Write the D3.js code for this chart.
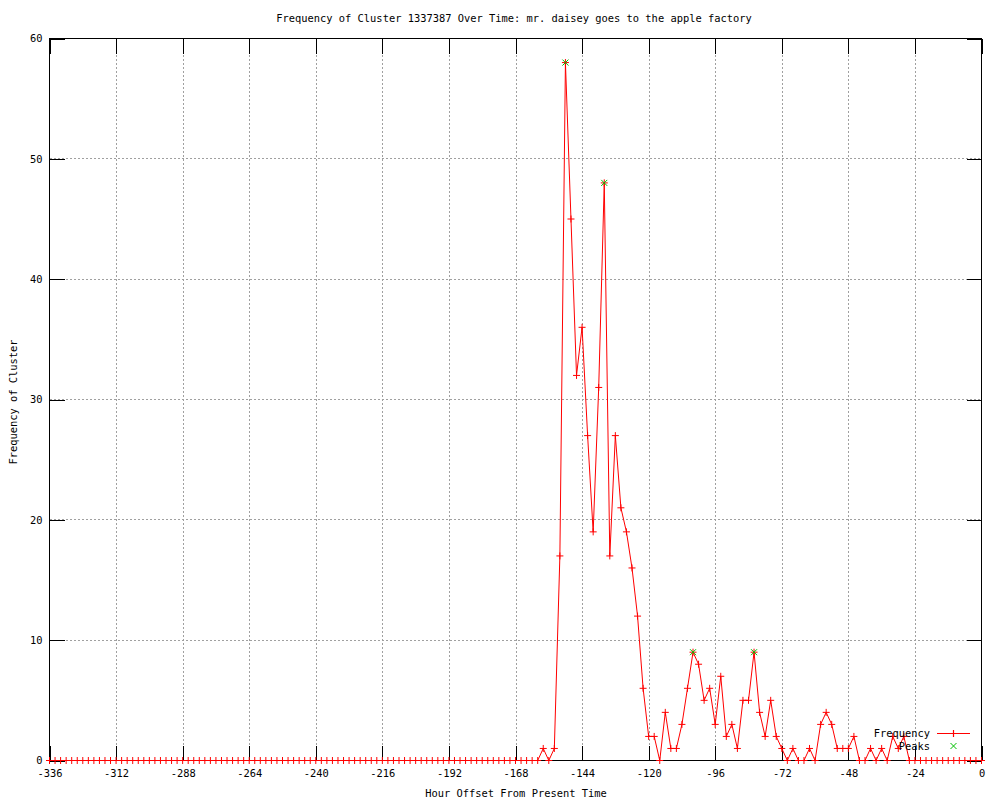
<!DOCTYPE html>
<html lang="en">
<head>
    <meta charset="UTF-8">
    <title>Frequency of Cluster 1337387</title>
    <style>
        body{margin:0; background:#fff;}
        svg{display:block;}
        text{font-family:"DejaVu Sans Mono", monospace; font-size:10.4px; fill:#000;}
    </style>
</head>
<body>
    <div id="chart"></div>
    <script src="https://cdn.jsdelivr.net/npm/d3@7"></script>
    <script>
        // hours go from -336 to 0 in steps of 2
        var startHour = -336;
        var stepHours = 2;
        // cluster frequency, one value per 2h bucket
        var counts = [
            0,0,0,0,0,0,0,0,0,0,0,0,
            0,0,0,0,0,0,0,0,0,0,0,0,
            0,0,0,0,0,0,0,0,0,0,0,0,
            0,0,0,0,0,0,0,0,0,0,0,0,
            0,0,0,0,0,0,0,0,0,0,0,0,
            0,0,0,0,0,0,0,0,0,0,0,0,
            0,0,0,0,0,0,0,0,0,0,0,0,
            0,0,0,0,
            // -160 .. -26
            0,1,0,1,17,58,45,32,36,27,
            19,31,48,17,27,21,19,16,12,6,
            2,2,0,4,1,1,3,6,9,8,
            5,6,3,7,2,3,1,5,5,9,
            4,2,5,2,1,0,1,0,0,1,
            0,3,4,3,1,1,1,2,0,0,
            1,0,1,0,2,1,2,0,
            // -24 .. 0
            0,0,0,0,0,0,0,0,0,0,0,0,0
        ];
        var peakHours = [-150, -136, -104, -82];
        var peakValues = [58, 48, 9, 9];

        var xTicks = [-336,-312,-288,-264,-240,-216,-192,-168,-144,-120,-96,-72,-48,-24,0];
        var yTicks = [0,10,20,30,40,50,60];

        var titleText = 'Frequency of Cluster 1337387 Over Time: mr. daisey goes to the apple factory';
        var xLabel = 'Hour Offset From Present Time';
        var yLabel = 'Frequency of Cluster';

        var data = counts.map(function(d,i){
            return {x: startHour + i*stepHours, y: d};
        });
        var peaks = peakHours.map(function(h,i){
            return {x: h, y: peakValues[i]};
        });

        var width = 1000, height = 800;
        var pLeft = 49.5, pRight = 981.5, pTop = 38.5, pBottom = 760.5;
        var red = '#ff0000', green = '#00c000';

        var xScale = d3.scaleLinear().domain([-336,0]).range([pLeft,pRight]);
        var yScale = d3.scaleLinear().domain([0,60]).range([pBottom,pTop]);

        var svg = d3.select('#chart').append('svg')
            .attr('width',width).attr('height',height);

        // grid
        var grid = svg.append('g').attr('shape-rendering','crispEdges');
        grid.selectAll('line.gx')
            .data(xTicks.filter(function(t){ return t > -336 && t < 0; }))
            .enter().append('line')
            .attr('class','gx')
            .attr('x1',function(d){ return Math.round(xScale(d))+0.5; })
            .attr('x2',function(d){ return Math.round(xScale(d))+0.5; })
            .attr('y1',pTop).attr('y2',pBottom)
            .attr('stroke','#a0a0a0').attr('stroke-dasharray','2,2');
        grid.selectAll('line.gy')
            .data(yTicks.filter(function(t){ return t > 0 && t < 60; }))
            .enter().append('line')
            .attr('class','gy')
            .attr('y1',function(d){ return yScale(d); })
            .attr('y2',function(d){ return yScale(d); })
            .attr('x1',pLeft).attr('x2',pRight)
            .attr('stroke','#a0a0a0').attr('stroke-dasharray','2,2');

        // axes, ticks pointing inward
        var fmt = function(d){ return String(d); };
        var xAxis = d3.axisBottom(xScale).tickValues(xTicks).tickFormat(fmt).tickSize(-15).tickPadding(9).tickSizeOuter(0);
        var xAxisTop = d3.axisTop(xScale).tickValues(xTicks).tickSize(-15).tickFormat('').tickSizeOuter(0);
        var yAxis = d3.axisLeft(yScale).tickValues(yTicks).tickFormat(fmt).tickSize(-15).tickPadding(7).tickSizeOuter(0);
        var yAxisRight = d3.axisRight(yScale).tickValues(yTicks).tickSize(-15).tickFormat('').tickSizeOuter(0);

        function styleAxis(g){
            g.attr('font-family',null).attr('font-size',null).attr('shape-rendering','crispEdges');
            g.select('.domain').remove();
            g.selectAll('line').attr('stroke','#000');
            g.selectAll('text').attr('fill','#000');
        }
        svg.append('g').attr('transform','translate(0,'+pBottom+')').call(xAxis).call(styleAxis);
        svg.append('g').attr('transform','translate(0,'+pTop+')').call(xAxisTop).call(styleAxis);
        svg.append('g').attr('transform','translate('+pLeft+',0)').call(yAxis).call(styleAxis);
        svg.append('g').attr('transform','translate('+pRight+',0)').call(yAxisRight).call(styleAxis);

        // border
        svg.append('rect')
            .attr('x',pLeft).attr('y',pTop)
            .attr('width',pRight-pLeft).attr('height',pBottom-pTop)
            .attr('fill','none').attr('stroke','#000')
            .attr('shape-rendering','crispEdges');

        // frequency line
        var line = d3.line()
            .x(function(d){ return xScale(d.x); })
            .y(function(d){ return yScale(d.y); });
        svg.append('path')
            .datum(data)
            .attr('d',line)
            .style('fill','none')
            .style('stroke',red)
            .style('stroke-width',1);

        // plus markers
        var plus = 'M-3.5,0H3.5M0,-3.5V3.5';
        svg.append('g').selectAll('path')
            .data(data)
            .enter().append('path')
            .attr('d',plus)
            .attr('transform',function(d){
                return 'translate('+xScale(d.x)+','+yScale(d.y)+')';
            })
            .style('stroke',red).style('fill','none');

        // peaks
        var cross = 'M-3,-3L3,3M-3,3L3,-3';
        svg.append('g').selectAll('path')
            .data(peaks)
            .enter().append('path')
            .attr('d',cross)
            .attr('transform',function(d){
                return 'translate('+xScale(d.x)+','+yScale(d.y)+')';
            })
            .style('stroke',green).style('fill','none');

        // legend
        var legend = svg.append('g');
        legend.append('text').attr('x',930).attr('y',737).attr('text-anchor','end').text('Frequency');
        legend.append('path').attr('d','M937,733.5H970')
            .style('stroke',red).style('fill','none').style('stroke-width',1.2);
        legend.append('path').attr('d',plus).attr('transform','translate(953.5,733.5)')
            .style('stroke',red).style('fill','none').style('stroke-width',1.2);
        legend.append('text').attr('x',930).attr('y',750).attr('text-anchor','end').text('Peaks');
        legend.append('path').attr('d',cross).attr('transform','translate(953.5,746)')
            .style('stroke',green).style('fill','none');

        // title and axis labels
        svg.append('text').attr('x',514).attr('y',22).attr('text-anchor','middle').text(titleText);
        svg.append('text').attr('x',516).attr('y',797).attr('text-anchor','middle').text(xLabel);
        svg.append('text').attr('text-anchor','middle')
            .attr('transform','translate(17,402) rotate(-90)')
            .text(yLabel);
    </script>
</body>
</html>
